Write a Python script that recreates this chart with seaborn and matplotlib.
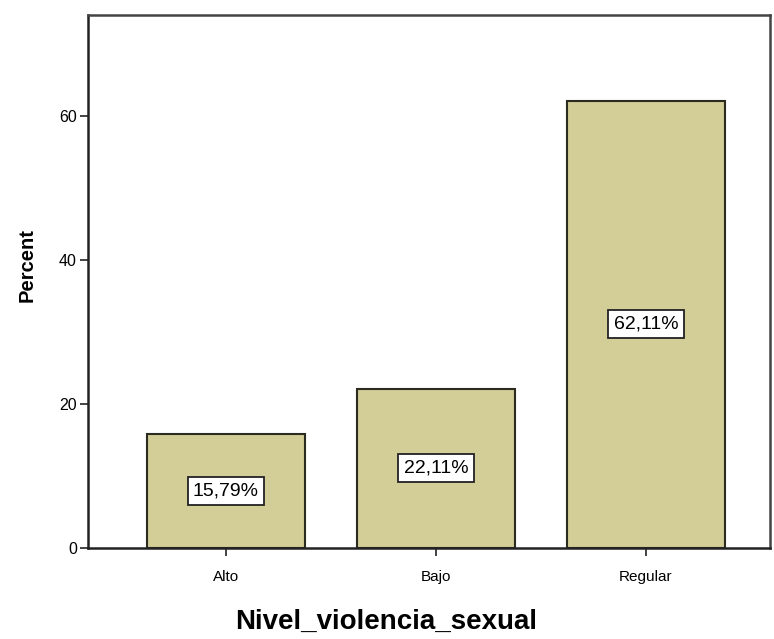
import numpy as np
import pandas as pd
import seaborn as sns
import matplotlib.pyplot as plt

categories = ['Alto', 'Bajo', 'Regular']
percent = [15.79, 22.11, 62.11]
yticks = [0, 20, 40, 60]

df = pd.DataFrame({'Nivel_violencia_sexual': categories, 'Percent': percent})

sns.set_style('white')
plt.rcParams['font.family'] = ['Liberation Sans', 'DejaVu Sans']

fig = plt.figure(figsize=(7.74, 6.39), dpi=100)
ax = fig.add_axes([0.1137, 0.1424, 0.8811, 0.8341])

sns.barplot(data=df, x='Nivel_violencia_sexual', y='Percent', order=categories,
            color='#D3CD97', edgecolor='#2b2b20', linewidth=1.5, width=0.75,
            saturation=1, ax=ax)

# percentage labels in white boxes, halfway up each bar
for i, v in enumerate(percent):
    lab = f'{v:.2f}%'.replace('.', ',')
    ax.text(i, v / 2, lab, ha='center', va='center', fontsize=14, color='black',
            bbox=dict(boxstyle='square,pad=0.28', facecolor='white',
                      edgecolor='#222222', linewidth=1.3))

ax.set_xlim(-0.657, 2.59)
ax.set_ylim(0, 74)
ax.set_yticks(yticks)
ax.set_yticklabels([str(t) for t in yticks], fontsize=11.5, color='black')
ax.tick_params(axis='x', labelsize=11, labelcolor='black', length=6, width=1.2,
               direction='out', bottom=True, color='#222222', pad=10)
ax.tick_params(axis='y', length=6, width=1.2, direction='out', left=True,
               color='#222222', pad=2)

ax.set_xlabel('Nivel_violencia_sexual', fontsize=20, fontweight='bold', color='black')
ax.set_ylabel('Percent', fontsize=14.5, fontweight='bold', color='black')
ax.xaxis.set_label_coords(0.437, -0.115)
ax.yaxis.set_label_coords(-0.076, 0.531)

for side in ['left', 'bottom']:
    ax.spines[side].set_color('#222222')
    ax.spines[side].set_linewidth(1.8)
for side in ['top', 'right']:
    ax.spines[side].set_color('#444444')
    ax.spines[side].set_linewidth(1.8)

fig.savefig('out.png', dpi=100)
